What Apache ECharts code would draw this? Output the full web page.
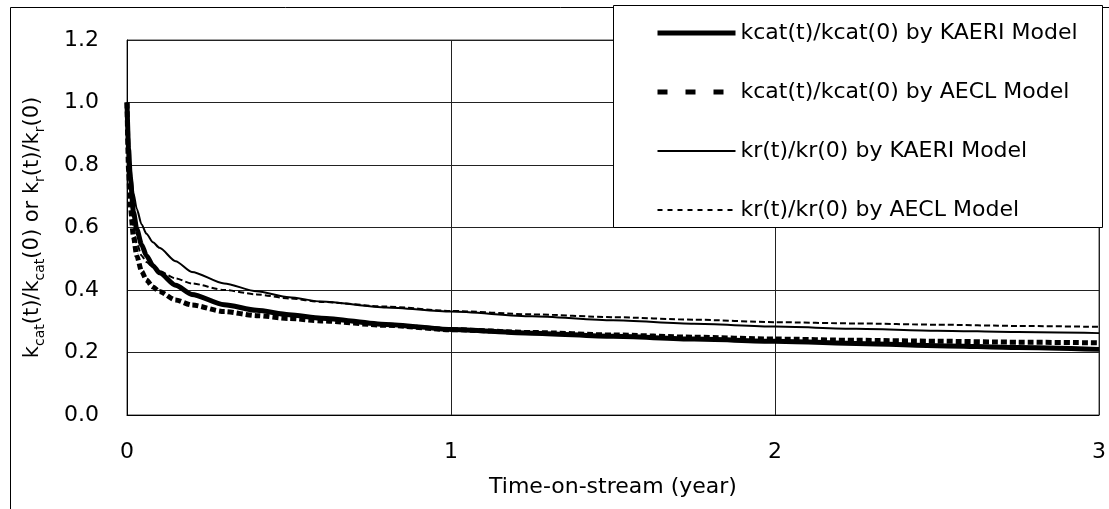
<!DOCTYPE html>
<html>
<head>
<meta charset="utf-8">
<script src="https://cdn.jsdelivr.net/npm/echarts@6/dist/echarts.min.js"></script>
<style>
html,body{margin:0;padding:0;background:#fff;}
#chart{width:1109px;height:509px;}
</style>
</head>
<body>
<div id="chart"></div>
<script>
// Time-on-stream (year)
const timeYears = [0, 0.005, 0.01, 0.02, 0.03, 0.045, 0.06, 0.08, 0.1, 0.15, 0.2, 0.3, 0.4, 0.5, 0.6, 0.8, 1.0, 1.25, 1.5, 1.75, 2.0, 2.25, 2.5, 2.75, 3.0];
const kcatKAERI = [1.0, 0.85, 0.76, 0.65, 0.595, 0.545, 0.51, 0.478, 0.455, 0.415, 0.386, 0.353, 0.335, 0.321, 0.31, 0.29, 0.274, 0.262, 0.252, 0.243, 0.236, 0.229, 0.222, 0.216, 0.21];
const kcatAECL  = [1.0, 0.78, 0.67, 0.57, 0.51, 0.46, 0.432, 0.41, 0.395, 0.368, 0.352, 0.331, 0.318, 0.309, 0.301, 0.287, 0.273, 0.264, 0.256, 0.249, 0.243, 0.239, 0.236, 0.233, 0.231];
const krKAERI   = [1.0, 0.87, 0.80, 0.71, 0.66, 0.61, 0.58, 0.553, 0.535, 0.492, 0.458, 0.421, 0.396, 0.377, 0.363, 0.344, 0.331, 0.316, 0.303, 0.292, 0.283, 0.276, 0.27, 0.2655, 0.262];
const krAECL    = [1.0, 0.8, 0.7, 0.6, 0.55, 0.51, 0.49, 0.473, 0.46, 0.437, 0.421, 0.40, 0.386, 0.373, 0.362, 0.347, 0.333, 0.322, 0.313, 0.305, 0.297, 0.293, 0.289, 0.285, 0.282];
const seriesNames = ['kcat(t)/kcat(0) by KAERI Model', 'kcat(t)/kcat(0) by AECL Model', 'kr(t)/kr(0) by KAERI Model', 'kr(t)/kr(0) by AECL Model'];
const xTicks = [0, 1, 2, 3];
const yTicks = [0.0, 0.2, 0.4, 0.6, 0.8, 1.0, 1.2];

const FONT = 'DejaVu Sans';
const pairs = vals => timeYears.map((t, i) => [t, vals[i]]);

const chart = echarts.init(document.getElementById('chart'), null, {renderer: 'canvas'});
const styles = [
  {width: 5, type: 'solid'},
  {width: 5, type: [6, 3]},
  {width: 2, type: 'solid'},
  {width: 2, type: [6, 3]}
];
const allVals = [kcatKAERI, kcatAECL, krKAERI, krAECL];

chart.setOption({
  animation: false,
  backgroundColor: '#fff',
  textStyle: {fontFamily: FONT, color: '#000'},
  graphic: [
    {type: 'rect', left: 8, top: 5, z: -10, silent: true,
     shape: {width: 1120, height: 520}, style: {fill: 'none', stroke: '#000', lineWidth: 1}},
    {type: 'rect', left: 613, top: 5, z: 50, silent: true,
     shape: {width: 489, height: 222}, style: {fill: '#fff', stroke: '#000', lineWidth: 1}}
  ],
  grid: {left: 127, right: 8, top: 40, bottom: 94, show: true, borderColor: '#444', borderWidth: 1, containLabel: false},
  legend: {
    orient: 'vertical', left: 650, top: 17, z: 60,
    itemWidth: 78, itemHeight: 20, itemGap: 37,
    itemStyle: {opacity: 0},
    textStyle: {fontFamily: FONT, fontSize: 22, color: '#000'},
    data: [
      {name: seriesNames[0], lineStyle: {width: 5, type: 'solid', color: '#000'}},
      {name: seriesNames[1], lineStyle: {width: 5, type: [10, 18], color: '#000'}},
      {name: seriesNames[2], lineStyle: {width: 2, type: 'solid', color: '#000'}},
      {name: seriesNames[3], lineStyle: {width: 2, type: [5, 5], color: '#000'}}
    ]
  },
  xAxis: {
    type: 'value', min: xTicks[0], max: xTicks[xTicks.length - 1], interval: 1,
    name: 'Time-on-stream (year)', nameLocation: 'middle', nameGap: 61,
    nameTextStyle: {fontFamily: FONT, fontSize: 22, color: '#000'},
    axisLine: {show: true, onZero: false, lineStyle: {color: '#000', width: 1}},
    axisTick: {show: false},
    axisLabel: {margin: 26, fontFamily: FONT, fontSize: 22, color: '#000'},
    splitLine: {show: true, lineStyle: {color: '#222', width: 1}}
  },
  yAxis: {
    type: 'value', min: yTicks[0], max: yTicks[yTicks.length - 1], interval: 0.2,
    name: '{n|k}{s|cat}{n|(t)/k}{s|cat}{n|(0) or k}{s|r}{n|(t)/k}{s|r}{n|(0)}',
    nameLocation: 'middle', nameRotate: 90, nameGap: 84,
    nameTextStyle: {
      fontFamily: FONT, color: '#000',
      rich: {
        n: {fontFamily: FONT, fontSize: 21, color: '#000', lineHeight: 26, verticalAlign: 'bottom'},
        s: {fontFamily: FONT, fontSize: 14, color: '#000', lineHeight: 26, verticalAlign: 'bottom', padding: [0, 0, -4, 0]}
      }
    },
    axisLine: {show: true, lineStyle: {color: '#000', width: 1}},
    axisTick: {show: false},
    axisLabel: {margin: 28, fontFamily: FONT, fontSize: 22, color: '#000',
      formatter: v => v.toFixed(1)},
    splitLine: {show: true, lineStyle: {color: '#222', width: 1}}
  },
  series: seriesNames.map((nm, i) => ({
    name: nm, type: 'line', data: pairs(allVals[i]),
    symbol: 'none', showSymbol: false,
    smooth: 0.25, smoothMonotone: 'x',
    lineStyle: {color: '#000', width: styles[i].width, type: styles[i].type},
    itemStyle: {color: '#000'},
    z: 2 + i
  }))
});
</script>
</body>
</html>
